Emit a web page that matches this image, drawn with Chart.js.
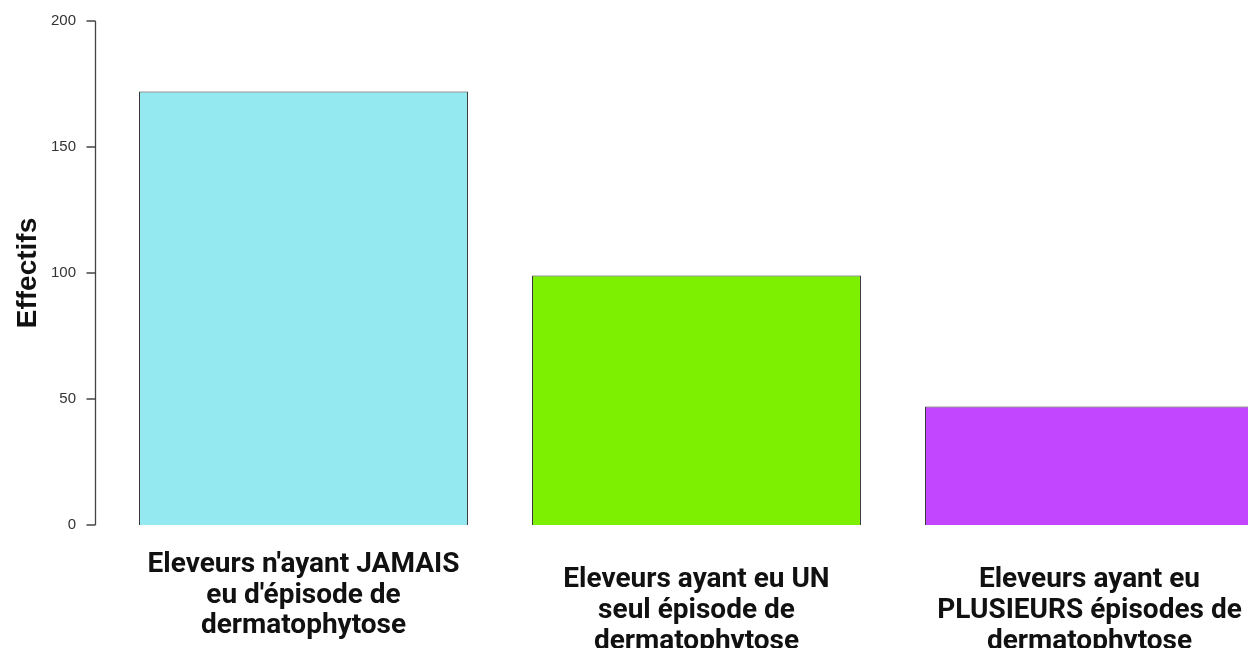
<!DOCTYPE html>
<html>
<head>
<meta charset="utf-8">
<script src="https://cdn.jsdelivr.net/npm/chart.js@4"></script>
<style>
  html, body { margin: 0; padding: 0; background: #fff; overflow: hidden; }
  #wrap { width: 1290px; height: 648px; }
</style>
</head>
<body>
<div id="wrap"><canvas id="barChart"></canvas></div>
<script>
const categories = [
  ["Eleveurs n'ayant JAMAIS", "eu d'épisode de", "dermatophytose", ""],
  ["Eleveurs ayant eu UN", "seul épisode de", "dermatophytose"],
  ["Eleveurs ayant eu", "PLUSIEURS épisodes de", "dermatophytose"],
];
const effectifs = [172, 99, 47];
const barColors = ["#94E8EF", "#7CF000", "#C245FF"];
const yTicks = [0, 50, 100, 150, 200];

// R-style y axis: line sits a little left of the plot, ticks point outwards
const rAxis = {
  id: "rAxis",
  afterDraw(chart) {
    const y = chart.scales.y;
    const x0 = chart.chartArea.left - 11.5;
    const ctx = chart.ctx;
    ctx.save();
    ctx.strokeStyle = "#444";
    ctx.lineWidth = 1.3;
    ctx.beginPath();
    ctx.moveTo(x0, y.getPixelForValue(yTicks[yTicks.length - 1]));
    ctx.lineTo(x0, y.getPixelForValue(yTicks[0]));
    yTicks.forEach((t) => {
      const py = y.getPixelForValue(t);
      ctx.moveTo(x0 - 9, py);
      ctx.lineTo(x0, py);
    });
    ctx.stroke();
    ctx.restore();
  },
};

new Chart(document.querySelector("#barChart"), {
  type: "bar",
  data: {
    labels: categories,
    datasets: [
      {
        data: effectifs,
        backgroundColor: barColors,
        borderColor: "#333",
        borderWidth: 1,
        borderSkipped: "bottom",
        categoryPercentage: 1,
        barPercentage: 0.837,
      },
    ],
  },
  options: {
    responsive: true,
    maintainAspectRatio: false,
    animation: false,
    layout: { padding: { top: 21, right: 4, left: 0, bottom: 0 } },
    plugins: { legend: { display: false }, tooltip: { enabled: false } },
    scales: {
      x: {
        afterFit: (s) => { s.height = 123; },
        grid: { display: false, drawTicks: false },
        border: { display: false },
        ticks: {
          padding: 40,
          crossAlign: "center",
          maxRotation: 0,
          autoSkip: false,
          color: "#111",
          font: { family: "Roboto", weight: "bold", size: 28, lineHeight: "30.7px" },
        },
      },
      y: {
        min: 0,
        max: 200,
        afterFit: (s) => {
          s.width = 107;
          s.paddingTop = 0;
          s.paddingBottom = 0;
        },
        afterBuildTicks: (s) => { s.ticks = yTicks.map((v) => ({ value: v })); },
        grid: { display: false, drawTicks: false },
        border: { display: false },
        ticks: {
          padding: 31,
          color: "#333",
          font: { family: "Liberation Sans", size: 15 },
        },
        title: {
          display: true,
          text: "Effectifs",
          color: "#111",
          padding: { top: 11, bottom: 0 },
          font: { family: "Liberation Sans", weight: "bold", size: 28 },
        },
      },
    },
  },
  plugins: [rAxis],
});
</script>
</body>
</html>
